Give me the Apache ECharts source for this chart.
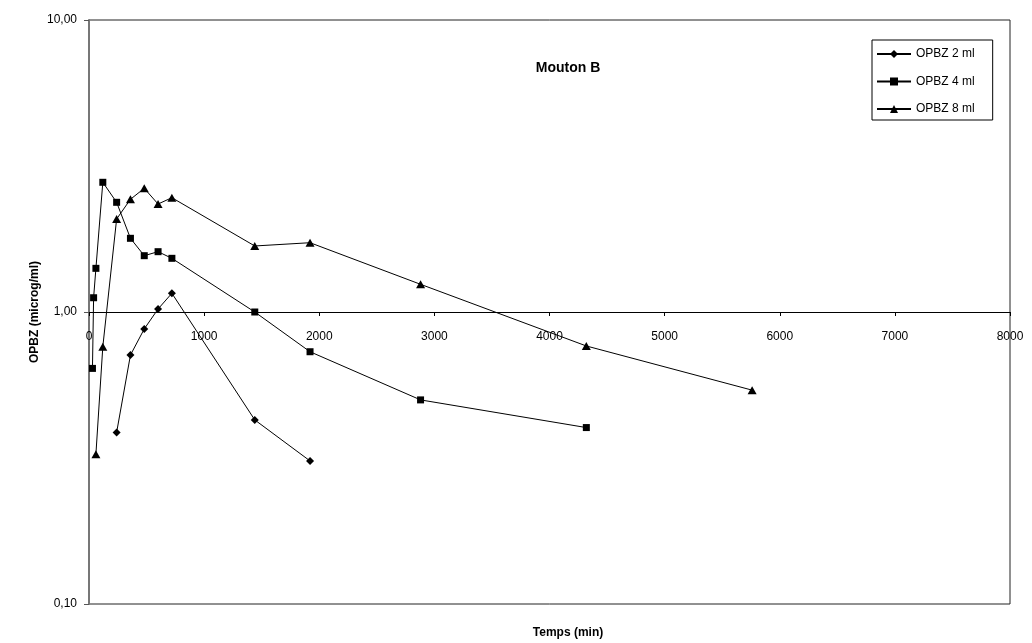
<!DOCTYPE html>
<html>
<head>
<meta charset="utf-8">
<script src="https://cdn.jsdelivr.net/npm/echarts@6/dist/echarts.min.js"></script>
<style>
html,body{margin:0;padding:0;background:#fff;}
#chart{width:1032px;height:643px;}
</style>
</head>
<body>
<div id="chart"></div>
<script>
// Data
const time2 = [240, 360, 480, 600, 720, 1440, 1920];
const val2  = [0.387, 0.712, 0.875, 1.024, 1.159, 0.427, 0.309];
const time4 = [30, 40, 60, 120, 240, 360, 480, 600, 720, 1440, 1920, 2880, 4320];
const val4  = [0.641, 1.119, 1.411, 2.781, 2.375, 1.788, 1.559, 1.609, 1.527, 1.00, 0.731, 0.50, 0.402];
const time8 = [60, 120, 240, 360, 480, 600, 720, 1440, 1920, 2880, 4320, 5760];
const val8  = [0.326, 0.761, 2.082, 2.432, 2.652, 2.343, 2.463, 1.683, 1.727, 1.244, 0.765, 0.540];
const seriesNames = ['OPBZ 2 ml', 'OPBZ 4 ml', 'OPBZ 8 ml'];
const titleText = 'Mouton B';
const xName = 'Temps (min)';
const yName = 'OPBZ (microg/ml)';

const FONT = '"Liberation Sans", Arial, sans-serif';
const pair = (xs, ys) => xs.map((x, i) => [x, ys[i]]);

const chart = echarts.init(document.getElementById('chart'), null, {renderer: 'canvas'});
const gridTop = 20, gridBottom = 39;
const plotH = 643 - gridTop - gridBottom;

function mk(name, data, symbol, size) {
  return {
    name: name, type: 'line', data: data, symbol: symbol, symbolSize: size,
    showAllSymbol: true, animation: false,
    lineStyle: {color: '#000', width: 1},
    itemStyle: {color: '#000'},
    emphasis: {disabled: true}
  };
}

chart.setOption({
  backgroundColor: '#fff',
  animation: false,
  textStyle: {fontFamily: FONT},
  title: [
    {text: titleText, left: 563, top: 56, textAlign: 'center',
     textStyle: {fontFamily: FONT, fontSize: 14, fontWeight: 'bold', color: '#000'}},
    {text: xName, left: 563, top: 622, textAlign: 'center',
     textStyle: {fontFamily: FONT, fontSize: 12, fontWeight: 'bold', color: '#000'}}
  ],
  legend: {
    orient: 'vertical', left: 872, top: 40,
    data: seriesNames,
    itemWidth: 34, itemHeight: 10, itemGap: 13.5,
    padding: [7, 18, 4, 4],
    borderColor: '#000', borderWidth: 1,
    textStyle: {fontFamily: FONT, fontSize: 12, color: '#000', lineHeight: 14},
    selectedMode: false
  },
  grid: {left: 89, right: 22, top: gridTop, bottom: gridBottom, show: true,
         borderColor: '#222', borderWidth: 1, backgroundColor: '#fff', containLabel: false},
  xAxis: {
    type: 'value', min: 0, max: 8000, interval: 1000,
    position: 'bottom', offset: -plotH / 2,
    axisLine: {show: true, onZero: false, lineStyle: {color: '#000', width: 1}},
    axisTick: {show: true, length: 4, lineStyle: {color: '#000'}},
    axisLabel: {margin: 19, fontFamily: FONT, fontSize: 12, color: '#000',
                formatter: v => String(v)},
    splitLine: {show: false}
  },
  yAxis: {
    type: 'log', logBase: 10, min: 0.1, max: 10,
    name: yName, nameLocation: 'middle', nameGap: 48, nameRotate: 90,
    nameMoveOverlap: false,
    nameTextStyle: {fontFamily: FONT, fontSize: 12, fontWeight: 'bold', color: '#000'},
    axisLine: {show: true, lineStyle: {color: '#777', width: 2}},
    axisTick: {show: true, length: 5, lineStyle: {color: '#555'}},
    axisLabel: {margin: 12, fontFamily: FONT, fontSize: 12, color: '#000',
                formatter: v => v.toFixed(2).replace('.', ',')},
    splitLine: {show: false},
    minorTick: {show: false}
  },
  series: [
    mk(seriesNames[0], pair(time2, val2), 'diamond', 8),
    mk(seriesNames[1], pair(time4, val4), 'rect', 7),
    mk(seriesNames[2], pair(time8, val8), 'triangle', [9, 8])
  ]
});
</script>
</body>
</html>
